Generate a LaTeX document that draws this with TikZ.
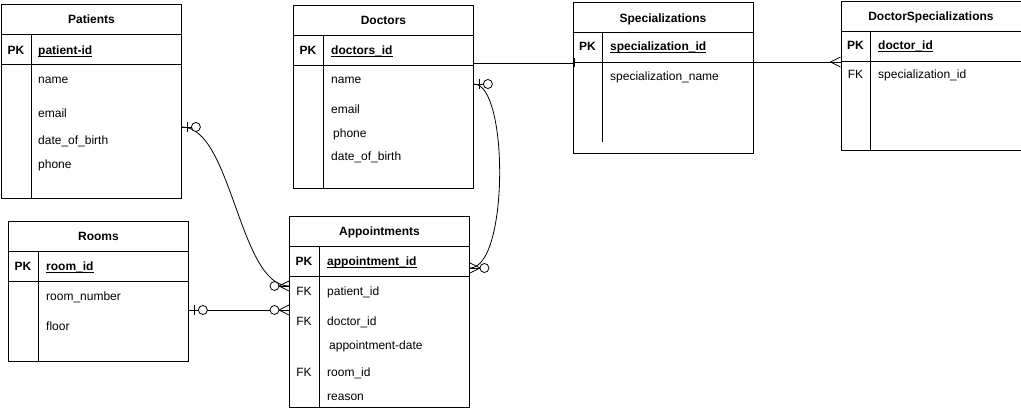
\documentclass[tikz,border=0pt]{standalone}
\usepackage{fontspec}
\setmainfont{Liberation Sans}
\usetikzlibrary{calc}

% key column text: bold with an underline close under the baseline
\newcommand\keyul[1]{\setbox0\hbox{#1}\rlap{\rule[-1.9pt]{\wd0}{0.8pt}}\box0}

\tikzset{
  er/.style={line width=0.9pt, black},
  tbl/.style={er, draw, fill=white, anchor=north west, inner sep=0pt, minimum width=180pt},
  ttl/.style={font=\fontsize{12}{14}\selectfont\bfseries, inner sep=0pt, anchor=base},
  key/.style={font=\fontsize{12}{14}\selectfont\bfseries, inner sep=0pt, anchor=base},
  fld/.style={font=\fontsize{12}{14}\selectfont, inner sep=0pt, anchor=base west},
  conn/.style={line width=0.8pt, black},
  % zero-or-one end: bar next to the table, circle further out
  zeroone/.pic={
    \draw[conn] (0,0) -- (10,0);
    \draw[conn] (5,-5) -- (5,5);
    \draw[conn, fill=white] (14,0) circle[radius=4.5pt];
  },
  % zero-or-many end: crow's foot at the table, circle further out
  zeromany/.pic={
    \draw[conn] (0,-5) -- (10,0) -- (0,5);
    \draw[conn] (0,0) -- (10,0);
    \draw[conn, fill=white] (14.5,0) circle[radius=4.5pt];
  },
  % many end: crow's foot only
  many/.pic={
    \draw[conn] (0,-5) -- (10,0) -- (0,5);
    \draw[conn] (0,0) -- (10,0);
  },
}

% table frame: outer box, title and key separators, key column divider
\newcommand\erframe[6]{%
  \node[tbl, minimum height=#4pt] (#1) at (#2,#3) {};
  \draw[er] ($(#1.north west)+(0,30)$) -- ($(#1.north east)+(0,30)$);
  \draw[er] ($(#1.north west)+(0,60)$) -- ($(#1.north east)+(0,60)$);
  \draw[er] ($(#1.north west)+(30,30)$) -- ($(#1.north west)+(30,#5)$);
  \node[ttl] (#1-title) at ($(#1.north)+(0,19.8)$) {#6};
}

\begin{document}
\begin{tikzpicture}[x=1pt, y=-1pt]
\useasboundingbox[fill=white] (0,0) rectangle (1021,417);

% ---------------- tables ----------------
\erframe{pat}{1}{4}{194}{194}{Patients}
\node[key] (pat-pk) at (16,54.5) {PK};
\node[fld] (pat-id) at (38,54.5) {\keyul{\textbf{patient-id}}};
\node[fld] (pat-f1) at (38,83.5) {name};
\node[fld] (pat-f2) at (38,117.5) {email};
\node[fld] (pat-f3) at (38,145) {date\_of\_birth};
\node[fld] (pat-f4) at (38,169) {phone};

\erframe{doc}{293}{5}{183}{183}{Doctors}
\node[key] (doc-pk) at (308,54.5) {PK};
\node[fld] (doc-id) at (331,54.5) {\keyul{\textbf{doctors\_id}}};
\node[fld] (doc-f1) at (331,84) {name};
\node[fld] (doc-f2) at (331,114) {email};
\node[fld] (doc-f3) at (333,137.5) {phone};
\node[fld] (doc-f4) at (331,161) {date\_of\_birth};

\erframe{spec}{572.5}{2.5}{150.5}{140}{Specializations}
\node[key] (spec-pk) at (587.5,51) {PK};
\node[fld] (spec-id) at (610,51) {\keyul{\textbf{specialization\_id}}};
\node[fld] (spec-f1) at (610,80.5) {specialization\_name};

\erframe{dspec}{840.5}{1}{149}{149}{DoctorSpecializations}
\node[key] (dspec-pk) at (855.5,49.5) {PK};
\node[fld] (dspec-id) at (878,49.5) {\keyul{\textbf{doctor\_id}}};
\node[key, font=\fontsize{12}{14}\selectfont] (dspec-fk) at (855.5,79) {FK};
\node[fld] (dspec-f1) at (878,79) {specialization\_id};

\erframe{room}{8}{221}{140}{140}{Rooms}
\node[key] (room-pk) at (23,270.5) {PK};
\node[fld] (room-id) at (46,270.5) {\keyul{\textbf{room\_id}}};
\node[fld] (room-f1) at (46,300.5) {room\_number};
\node[fld] (room-f2) at (46,330) {floor};

\erframe{appt}{289}{216}{191}{191}{Appointments}
\node[key] (appt-pk) at (304,265.5) {PK};
\node[fld] (appt-id) at (327,265.5) {\keyul{\textbf{appointment\_id}}};
\node[key, font=\fontsize{12}{14}\selectfont] (appt-fk1) at (304,295) {FK};
\node[fld] (appt-f1) at (327,295) {patient\_id};
\node[key, font=\fontsize{12}{14}\selectfont] (appt-fk2) at (304,325) {FK};
\node[fld] (appt-f2) at (327,325) {doctor\_id};
\node[fld] (appt-f3) at (329,349) {appointment-date};
\node[key, font=\fontsize{12}{14}\selectfont] (appt-fk3) at (304,376) {FK};
\node[fld] (appt-f4) at (327,376) {room\_id};
\node[fld] (appt-f5) at (327,400.5) {reason};

% ---------------- attachment points ----------------
\coordinate (pat-out)   at ($(pat.north east)+(0,123)$);
\coordinate (appt-in1)  at ($(appt.north west)+(0,70)$);
\coordinate (room-out)  at ($(room.north east)+(0,89)$);
\coordinate (appt-in2)  at ($(appt.north west)+(0,94)$);
\coordinate (doc-out)   at ($(doc.north east)+(0,79)$);
\coordinate (appt-out)  at ($(appt.north east)+(0,52)$);
\coordinate (doc-spec)  at ($(doc.north east)+(0,58)$);
\coordinate (spec-in)   at ($(spec.north west)+(0,60.5)$);
\coordinate (spec-out)  at ($(spec.north east)+(0,59.5)$);
\coordinate (dspec-in)  at ($(dspec.north west)+(0,61)$);

% ---------------- relationships ----------------
\draw[conn] (pat-out) .. controls +(50,0) and +(-50,0) .. (appt-in1);
\draw[conn] (room-out) -- (appt-in2);
\draw[conn] (doc-out) .. controls +(35,0) and +(39,0) .. (appt-out);
\draw[conn] (doc-spec) -- (spec-in);
\draw[conn] (spec-out) -- (dspec-in);

\pic at (pat-out) {zeroone};
\pic[xscale=-1] at (appt-in1) {zeromany};
\pic at (room-out) {zeroone};
\pic[xscale=-1] at (appt-in2) {zeromany};
\pic at (doc-out) {zeroone};
\pic at (appt-out) {zeromany};
\draw[conn] ($(spec-in)+(2,-4.5)$) -- ($(spec-in)+(2,4.5)$);
\pic[xscale=-1] at (dspec-in) {many};
\end{tikzpicture}
\end{document}
